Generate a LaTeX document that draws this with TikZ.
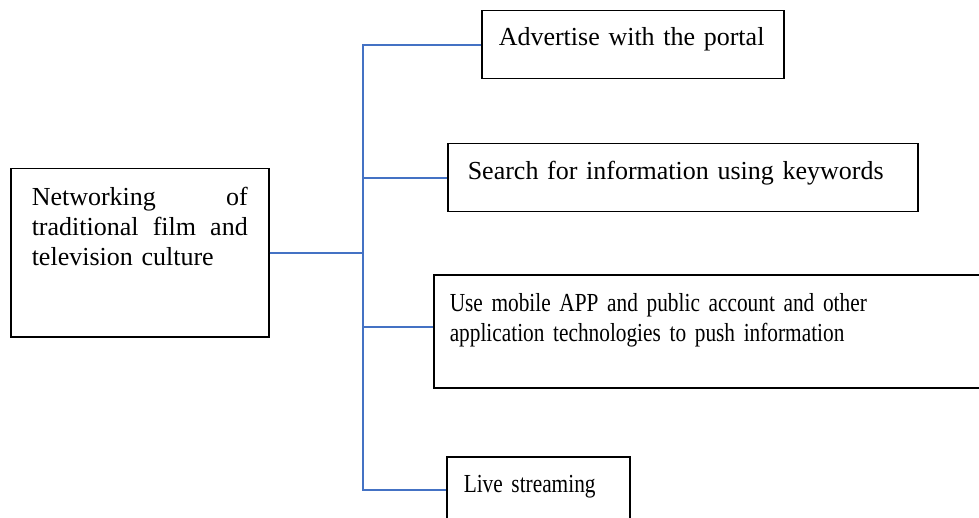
\documentclass[tikz,border=0pt]{standalone}
\usepackage{fontspec}
\setmainfont{Liberation Serif}
\newfontfamily\narrowserif[FakeStretch=0.82]{Liberation Serif}
\usepackage{xcolor}
\usepackage{tikz}

\definecolor{linkblue}{HTML}{4472C4}

\tikzset{
  textbox/.style = {rectangle,
      draw = black,
      line width = 0.75pt,
      anchor = north west,
      align = left,
      inner ysep = 0pt,
      font = \fontsize{13}{15}\selectfont},
  link/.style = {draw = linkblue, line width = 1pt}
}

\begin{document}
\begin{tikzpicture}[x = 0.5pt, y = -0.5pt]
\useasboundingbox (0,0) rectangle (979,518);

% left box
\node[textbox,
    inner xsep = 10.5pt,
    text width = 108pt,
    text height = 18.5pt,
    text depth = 65.5pt] (net) at (10,168)
    {Networking\hfill of\\
     traditional\hfill film\hfill and\\
     television culture};

% right boxes
\node[textbox,
    inner xsep = 8.5pt,
    text width = 134pt,
    text height = 17.5pt,
    text depth = 16.5pt] (adv) at (481,10) {Advertise with the portal};

\node[textbox,
    inner xsep = 10pt,
    text width = 215pt,
    text height = 18pt,
    text depth = 16pt] (srch) at (447,143) {Search for information using keywords};

\node[textbox,
    inner xsep = 8pt,
    text width = 262.5pt,
    text height = 18.5pt,
    text depth = 38pt] (app) at (433,274)
    {\narrowserif Use mobile APP and public account and other\\
     \narrowserif application technologies to push information};

\node[textbox,
    inner xsep = 8.5pt,
    text width = 74.5pt,
    text height = 18pt,
    text depth = 15pt] (live) at (446,456) {\narrowserif Live streaming};

% connectors
\coordinate (trunk) at (363,0);
\coordinate (appin) at ([yshift=2pt]app.west);
\draw[link] (adv.west) -| (trunk |- live.west) -- (live.west);
\draw[link] (net.east) -- (net.east -| trunk);
\draw[link] (srch.west) -- (srch.west -| trunk);
\draw[link] (appin) -- (appin -| trunk);

\end{tikzpicture}
\end{document}
